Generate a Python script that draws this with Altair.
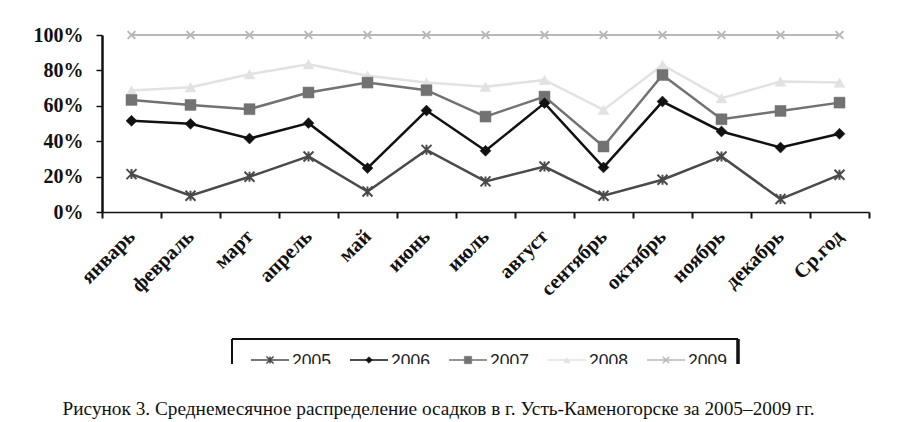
import altair as alt
import pandas as pd

months = ["январь", "февраль", "март", "апрель", "май", "июнь", "июль",
          "август", "сентябрь", "октябрь", "ноябрь", "декабрь", "Ср.год"]
years = ["2005", "2006", "2007", "2008", "2009"]
v2005 = [21.4, 9.2, 19.9, 31.4, 11.6, 35.1, 17.3, 25.7, 9.2, 18.2, 31.4, 7.3, 21.0]
v2006 = [51.5, 49.8, 41.5, 50.2, 24.8, 57.3, 34.6, 61.5, 25.2, 62.4, 45.5, 36.4, 44.2]
v2007 = [63.3, 60.5, 58.1, 67.5, 73.1, 68.8, 53.9, 65.2, 37.0, 77.4, 52.4, 57.1, 61.8]
v2008 = [68.6, 70.5, 77.8, 83.5, 77.0, 73.1, 70.8, 74.6, 57.7, 83.1, 64.3, 73.7, 73.1]
v2009 = [100, 100, 100, 100, 100, 100, 100, 100, 100, 100, 100, 100, 100]
caption = "Рисунок 3. Среднемесячное распределение осадков в г. Усть-Каменогорске за 2005–2009 гг."

series = {"2005": v2005, "2006": v2006, "2007": v2007, "2008": v2008, "2009": v2009}
rows = []
for yr, vals in series.items():
    for m, v in zip(months, vals):
        rows.append({"year": yr, "month": m, "value": v})
df = pd.DataFrame(rows)
legend_df = pd.DataFrame({"year": years})

ASTER = "M-1,-1L1,1M-1,1L1,-1M0,-1L0,1"
XSHAPE = "M-1,-1L1,1M-1,1L1,-1"
style = {
    "2005": dict(color="#4a4a4a", width=2.5, shape=ASTER, filled=False, size=100, lsize=50),
    "2006": dict(color="#111111", width=2.5, shape="diamond", filled=True, size=120, lsize=45),
    "2007": dict(color="#727272", width=2.5, shape="square", filled=True, size=120, lsize=55),
    "2008": dict(color="#e2e2e2", width=2.5, shape="triangle-up", filled=True, size=120, lsize=40),
    "2009": dict(color="#b8b8b8", width=1.8, shape=XSHAPE, filled=False, size=60, lsize=40),
}

xenc = alt.X("month:N", sort=months, title=None,
             scale=alt.Scale(paddingInner=0, paddingOuter=0),
             axis=alt.Axis(tickBand="extent", labelAngle=-45, labelAlign="right",
                           labelBaseline="middle", labelFont="Liberation Serif",
                           labelFontWeight="bold", labelFontSize=20.5, labelColor="#111",
                           labelPadding=15, tickSize=6, tickWidth=2, tickColor="#111",
                           domainColor="#111", domainWidth=1.5, labelOverlap=False))
yenc = alt.Y("value:Q", title=None, scale=alt.Scale(domain=[0, 100]),
             axis=alt.Axis(values=[0, 20, 40, 60, 80, 100], labelExpr="datum.value + '%'",
                           labelFont="Liberation Serif", labelFontWeight="bold",
                           labelFontSize=20, labelColor="#111", labelPadding=13,
                           tickSize=6, tickWidth=1.5, tickColor="#111",
                           domainColor="#111", domainWidth=2.5, grid=False))

base = alt.Chart(df)
layers = []
for yr in ["2009", "2008", "2007", "2006", "2005"]:
    s = style[yr]
    f = base.transform_filter(alt.datum.year == yr)
    layers.append(f.mark_line(color=s["color"], strokeWidth=s["width"]).encode(x=xenc, y=yenc))
    if s["filled"]:
        pt = f.mark_point(shape=s["shape"], filled=True, fill=s["color"], stroke=s["color"],
                          strokeWidth=0.5, size=s["size"], opacity=1)
    else:
        pt = f.mark_point(shape=s["shape"], filled=False, stroke=s["color"],
                          strokeWidth=2, size=s["size"], opacity=1)
    layers.append(pt.encode(x=xenc, y=yenc))

main = alt.layer(*layers).properties(width=767, height=177)

# legend
lbase = alt.Chart(legend_df)
lx = alt.X("year:N", axis=None,
           scale=alt.Scale(type="point", domain=years, range=[168, 564], padding=0))
llayers = []
for yr in years:
    s = style[yr]
    f = lbase.transform_filter(alt.datum.year == yr)
    llayers.append(f.mark_tick(orient="horizontal", size=38, thickness=1.6,
                               color=s["color"], opacity=1).encode(x=lx, y=alt.value(21)))
    if s["filled"]:
        pt = f.mark_point(shape=s["shape"], filled=True, fill=s["color"], stroke=s["color"],
                          strokeWidth=0.5, size=s["lsize"], opacity=1)
    else:
        pt = f.mark_point(shape=s["shape"], filled=False, stroke=s["color"],
                          strokeWidth=1.5, size=s["lsize"], opacity=1)
    llayers.append(pt.encode(x=lx, y=alt.value(21)))
llayers.append(lbase.mark_text(align="left", baseline="alphabetic", dx=22, clip=True,
                               font="Liberation Sans", fontSize=17.5, color="#222")
               .encode(x=lx, y=alt.value(28), text="year:N"))
llayers.append(lbase.mark_rule(color="#111", strokeWidth=1.5)
               .encode(x=alt.value(130), x2=alt.value(636), y=alt.value(0)))
llayers.append(lbase.mark_rule(color="#111", strokeWidth=1.5)
               .encode(x=alt.value(130), y=alt.value(0), y2=alt.value(25)))
llayers.append(lbase.mark_rule(color="#111", strokeWidth=2.5)
               .encode(x=alt.value(636), y=alt.value(0), y2=alt.value(25)))
legend = alt.layer(*llayers).properties(width=767, height=25)

chart = alt.vconcat(main, legend, spacing=37).properties(
    title=alt.TitleParams(caption, orient="bottom", anchor="middle", font="Liberation Serif",
                          fontSize=19.3, fontWeight="normal", color="#111", offset=33, dx=-13),
    padding={"left": 25, "top": 17, "right": 5, "bottom": 0},
).configure_view(stroke=None)

chart.save("out.html", embed_options={"renderer": "svg", "actions": False})
